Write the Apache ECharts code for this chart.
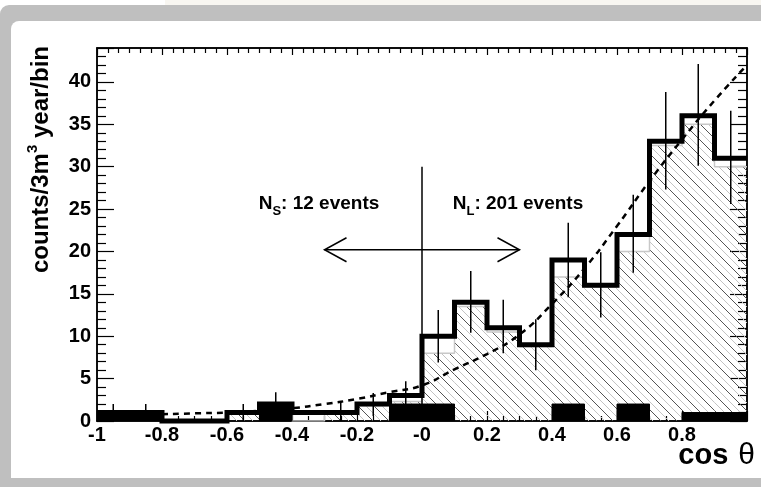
<!DOCTYPE html>
<html>
<head>
<meta charset="utf-8">
<title>cos theta distribution</title>
<script src="https://cdn.jsdelivr.net/npm/echarts@6/dist/echarts.min.js"></script>
<style>
  html, body { margin: 0; padding: 0; width: 761px; height: 487px; overflow: hidden; background: #fff; }
  #topStrip { position: absolute; left: 165px; top: 0; width: 596px; height: 5px; background: #f8f6f1; }
  #frame { position: absolute; left: 0; top: 5px; width: 761px; height: 482px; background: #bfbfbf; border-top-left-radius: 9px; }
  #panel { position: absolute; left: 11px; top: 21px; width: 750px; height: 457px; background: #fff; border-top-left-radius: 8px; }
  #chart { position: absolute; left: 0; top: 0; width: 761px; height: 487px; }
</style>
</head>
<body>
<div id="topStrip"></div>
<div id="frame"></div>
<div id="panel"></div>
<div id="chart"></div>

<script>
// histogram bins along cos(theta)
var binEdges = [-1.0, -0.9, -0.8, -0.7, -0.6, -0.5, -0.4, -0.3, -0.2, -0.1, 0.0,
                0.1, 0.2, 0.3, 0.4, 0.5, 0.6, 0.7, 0.8, 0.9, 1.0];

// measured counts (thick black histogram)
var dataCounts = [1, 1, 0, 0, 1, 2, 1, 1, 2, 3, 10, 14, 11, 9, 19, 16, 22, 33, 36, 31];
// error bar ends (null = no bar drawn)
var errLow  = [0, 0, null, null, 0, 0.6, null, 0, 0.6, 1.3, 6.9, 10.4, 8.0, 6.0, 14.6, 12.2, 17.5, 27.3, 30.1, 25.6];
var errHigh = [2, 2, null, null, 2, 3.4, null, 2.3, 3.3, 4.7, 13.1, 17.7, 14.3, 12.0, 23.4, 19.9, 26.7, 38.8, 42.1, 36.6];

// expectation (hatched histogram)
var mcCounts = [0.8, 0.8, 0, 0, 0.8, 1, 0, 1, 1.8, 2.3, 8, 13.5, 10.5, 8.8, 17, 15.8, 20, 32.5, 35, 30];

// solid black histogram
var blackCounts = [1, 1, 0, 0, 0, 2, 0, 0, 0, 2, 2, 0, 0, 0, 2, 0, 2, 0, 1, 1];

// dashed fit curve
var fitX = [-0.8, -0.7, -0.6, -0.5, -0.4, -0.3, -0.2, -0.1, 0.0, 0.1, 0.2, 0.3, 0.4, 0.5, 0.6, 0.7, 0.8, 0.9, 1.0];
var fitY = [0.8, 0.9, 1.0, 1.2, 1.5, 2.0, 2.6, 3.4, 4.2, 6.1, 7.9, 10.2, 13.8, 18.0, 23.0, 28.3, 33.2, 37.8, 42.0];

// annotation
var dividerX = 0, dividerTop = 30;
var arrowY = 20.2, arrowFrom = -0.3, arrowTo = 0.3;
var labelS = '{n|N}{s|S}{n|: 12 events}';
var labelL = '{n|N}{s|L}{n|: 201 events}';

var FONT = "'Liberation Sans', Arial, Helvetica, sans-serif";

function makeHatch() {
    var c = document.createElement('canvas');
    c.width = 16; c.height = 16;
    var g = c.getContext('2d');
    g.lineWidth = 1;
    g.strokeStyle = '#c4c4c4';
    [-16, 0, 16].forEach(function (o) {
        g.beginPath(); g.moveTo(o + 8, 0); g.lineTo(o + 24, 16); g.stroke();
    });
    g.strokeStyle = '#555';
    [-16, 0, 16].forEach(function (o) {
        g.beginPath(); g.moveTo(o, 0); g.lineTo(o + 16, 16); g.stroke();
    });
    return c;
}
var hatch = { type: 'pattern', image: makeHatch(), repeat: 'repeat' };

function binRows(vals) {
    return vals.map(function (v, i) { return [binEdges[i], binEdges[i + 1], v]; });
}
function stepPoints(vals) {
    var pts = vals.map(function (v, i) { return [binEdges[i], v]; });
    pts.push([binEdges[vals.length], vals[vals.length - 1]]);
    return pts;
}
function binRect(fill, stroke) {
    return function (params, api) {
        var v = api.value(2);
        if (!v) return null;
        var a = api.coord([api.value(0), v]);
        var b = api.coord([api.value(1), 0]);
        return {
            type: 'rect',
            shape: { x: a[0], y: a[1], width: b[0] - a[0], height: b[1] - a[1] },
            style: { fill: fill, stroke: stroke || null, lineWidth: stroke ? 1 : 0 }
        };
    };
}

var errRows = [];
dataCounts.forEach(function (v, i) {
    if (errLow[i] === null) return;
    errRows.push([(binEdges[i] + binEdges[i + 1]) / 2, errLow[i], errHigh[i]]);
});

var tickStyle = { color: '#000', width: 1.2 };

function xAxisBase(pos, labels) {
    return {
        type: 'value', position: pos, min: -1, max: 1, interval: 0.2,
        axisLine: { show: true, onZero: false, lineStyle: { color: '#000', width: 1.5 } },
        axisTick: { show: true, inside: true, length: pos === 'bottom' ? 10 : 7, lineStyle: tickStyle },
        minorTick: { show: true, splitNumber: pos === 'bottom' ? 4 : 6, length: 5, lineStyle: tickStyle },
        splitLine: { show: false },
        axisLabel: labels ? {
            show: true, margin: 4, color: '#000', fontFamily: FONT, fontWeight: 'bold', fontSize: 20,
            formatter: function (v) {
                var r = Math.round(v * 10) / 10;
                if (r === 0) return '-0';
                if (r === 1) return '';
                return String(r);
            }
        } : { show: false }
    };
}
function yAxisBase(pos, labels) {
    return {
        type: 'value', position: pos, min: 0, max: 44, interval: 5,
        axisLine: { show: true, onZero: false, lineStyle: { color: '#000', width: 1.5 } },
        axisTick: { show: true, inside: true, length: 17, lineStyle: tickStyle },
        minorTick: { show: true, splitNumber: 5, length: 9, lineStyle: tickStyle },
        splitLine: { show: false },
        axisLabel: labels ? {
            show: true, margin: 6, color: '#000', fontFamily: FONT, fontWeight: 'bold', fontSize: 20,
            showMaxLabel: false
        } : { show: false }
    };
}

var chart = echarts.init(document.getElementById('chart'), null, { renderer: 'canvas' });

var option = {
    animation: false,
    backgroundColor: 'transparent',
    grid: { left: 97, right: 14, top: 48, bottom: 66, show: true, borderColor: '#000', borderWidth: 1.5, backgroundColor: 'transparent' },
    xAxis: [xAxisBase('bottom', true), xAxisBase('top', false)],
    yAxis: [yAxisBase('left', true), yAxisBase('right', false)],
    graphic: [
        {
            type: 'text', x: 41, y: 46, rotation: Math.PI / 2, z: 10,
            style: {
                text: '{a|counts/3m}{p|3}{a| year/bin}',
                align: 'right', verticalAlign: 'middle',
                rich: {
                    a: { fontFamily: FONT, fontWeight: 'bold', fontSize: 24, lineHeight: 32, fill: '#000' },
                    p: { fontFamily: FONT, fontWeight: 'bold', fontSize: 15, lineHeight: 15, verticalAlign: 'top', fill: '#000' }
                }
            }
        },
        {
            type: 'text', x: 755, y: 456, z: 10,
            style: {
                text: '{c|cos}{g|}{t|θ}',
                align: 'right', verticalAlign: 'middle',
                rich: {
                    c: { fontFamily: FONT, fontWeight: 'bold', fontSize: 29, fill: '#000' },
                    g: { width: 10 },
                    t: { fontFamily: FONT, fontWeight: 'normal', fontSize: 30, fill: '#000' }
                }
            }
        }
    ],
    series: [
        {
            name: 'expected', type: 'custom', z: 1, clip: true,
            data: binRows(mcCounts), encode: { x: [0, 1], y: 2 },
            renderItem: binRect(hatch)
        },
        {
            name: 'expected outline', type: 'line', step: 'end', z: 2, symbol: 'none',
            data: stepPoints(mcCounts),
            lineStyle: { color: '#c8c8c8', width: 1.5 }
        },
        {
            name: 'short', type: 'custom', z: 3, clip: true,
            data: binRows(blackCounts), encode: { x: [0, 1], y: 2 },
            renderItem: binRect('#000', '#000')
        },
        {
            name: 'fit', type: 'line', z: 4, symbol: 'none', smooth: true,
            data: fitX.map(function (x, i) { return [x, fitY[i]]; }),
            lineStyle: { color: '#000', width: 2.5, type: [6, 5] }
        },
        {
            name: 'errors', type: 'custom', z: 5, clip: false,
            data: errRows, encode: { x: 0, y: [1, 2] },
            renderItem: function (params, api) {
                var a = api.coord([api.value(0), api.value(1)]);
                var b = api.coord([api.value(0), api.value(2)]);
                return {
                    type: 'line',
                    shape: { x1: a[0], y1: a[1], x2: b[0], y2: b[1] },
                    style: { stroke: '#000', lineWidth: 1.5 }
                };
            }
        },
        {
            name: 'data', type: 'line', step: 'end', z: 6, symbol: 'none', clip: false,
            data: stepPoints(dataCounts),
            lineStyle: { color: '#000', width: 5, join: 'miter', cap: 'butt' }
        },
        {
            name: 'annotation', type: 'custom', z: 7, clip: false,
            data: [[0, 0]],
            renderItem: function (params, api) {
                var d0 = api.coord([dividerX, 0]), d1 = api.coord([dividerX, dividerTop]);
                var l = api.coord([arrowFrom, arrowY]), r = api.coord([arrowTo, arrowY]);
                var st = { stroke: '#000', lineWidth: 1.5, fill: null };
                var rich = {
                    n: { fontFamily: FONT, fontWeight: 'bold', fontSize: 19, lineHeight: 28, fill: '#000' },
                    s: { fontFamily: FONT, fontWeight: 'bold', fontSize: 13, lineHeight: 13, verticalAlign: 'bottom', fill: '#000' }
                };
                return {
                    type: 'group',
                    children: [
                        { type: 'line', shape: { x1: d0[0], y1: d0[1], x2: d1[0], y2: d1[1] }, style: st },
                        { type: 'line', shape: { x1: l[0], y1: l[1], x2: r[0], y2: r[1] }, style: st },
                        { type: 'polyline', shape: { points: [[l[0] + 22, l[1] - 12], [l[0], l[1]], [l[0] + 22, l[1] + 12]] }, style: st },
                        { type: 'polyline', shape: { points: [[r[0] - 22, r[1] - 12], [r[0], r[1]], [r[0] - 22, r[1] + 12]] }, style: st },
                        { type: 'text', x: 319, y: 204, style: { text: labelS, rich: rich, align: 'center', verticalAlign: 'middle' } },
                        { type: 'text', x: 518, y: 204, style: { text: labelL, rich: rich, align: 'center', verticalAlign: 'middle' } }
                    ]
                };
            }
        }
    ]
};

chart.setOption(option);
</script>
</body>
</html>
